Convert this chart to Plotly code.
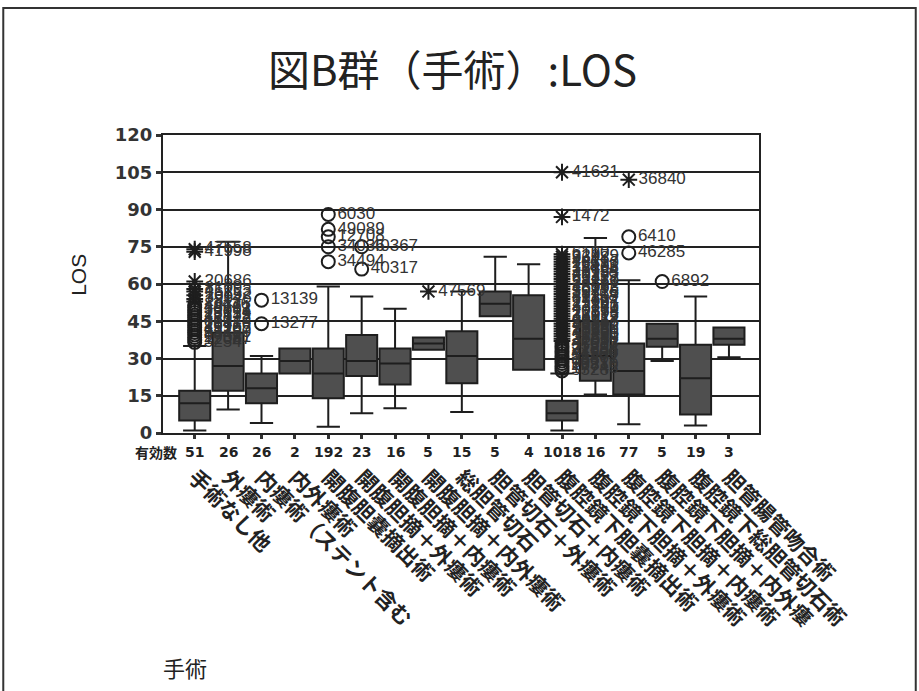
import plotly.graph_objects as go

# ---------------- data ----------------
categories = ["手術なし他", "外瘻術", "内瘻術（ステント含む", "内外瘻術", "開腹胆嚢摘出術",
              "開腹胆摘＋外瘻術", "開腹胆摘＋内瘻術", "開腹胆摘＋内外瘻術", "総胆管切石",
              "胆管切石＋外瘻術", "胆管切石＋内瘻術", "腹腔鏡下胆嚢摘出術", "腹腔鏡下胆摘＋外瘻術",
              "腹腔鏡下胆摘＋内瘻術", "腹腔鏡下胆摘＋内外瘻", "腹腔鏡下総胆管切石術", "胆管腸管吻合術"]
n_valid = [51, 26, 26, 2, 192, 23, 16, 5, 15, 5, 4, 1018, 16, 77, 5, 19, 3]

q1 = [5, 17, 12, 24, 14, 23, 19.5, 33.5, 20, 47, 25.5, 5, 21, 15.5, 34.7, 7.5, 35.5]
median = [12, 27, 18, 29, 24, 29, 28, 36, 31, 52, 38, 8, 31, 25, 38, 22, 38]
q3 = [17, 40.5, 24, 34, 34, 39.5, 34, 38.5, 41, 57, 55.5, 13, 45, 36, 44, 35.5, 42.5]
lower = [1, 9.5, 4, 24, 2.5, 8, 10, 33.5, 8.5, 47, 25.5, 1, 15.5, 3.5, 29, 3, 30.5]
upper = [35, 77, 31, 34, 59, 55, 50, 38.5, 57, 71, 68, 24, 78.5, 61.5, 44, 55, 42.5]

# outliers (circle = >1.5 IQR, star = >3 IQR)
circ_cat = (["手術なし他"] * 16 + ["内瘻術（ステント含む"] * 2 + ["開腹胆嚢摘出術"] * 5 +
            ["開腹胆摘＋外瘻術"] * 2 + ["腹腔鏡下胆嚢摘出術"] * 12 +
            ["腹腔鏡下胆摘＋内瘻術"] * 2 + ["腹腔鏡下胆摘＋内外瘻"])
circ_val = [36.5, 37.5, 38.5, 39.5, 40.5, 41.5, 42.5, 43.5, 44.5, 45.5, 46.5, 47.5, 48.5, 49.5, 50.5, 51.5,
            53.5, 44,
            88, 82, 79, 75, 69,
            75, 66,
            25, 26, 27, 28, 29, 30, 31, 32, 33, 34, 35, 36,
            79, 72.5,
            61]
circ_id = ["3254", "12087", "27531", "8842", "33190", "41207", "19965", "28476", "6631", "45012",
           "37728", "15539", "23014", "30982", "48761", "11436",
           "13139", "13277",
           "6030", "49089", "12708", "34036", "34494",
           "40367", "40317",
           "5528", "17743", "26310", "9021", "38877", "14402", "31169", "44590", "2236", "21894", "35517", "47033",
           "6410", "46285",
           "6892"]

star_cat = (["手術なし他"] * 8 + ["開腹胆摘＋内外瘻術"] + ["腹腔鏡下胆嚢摘出術"] * 38 +
            ["腹腔鏡下胆摘＋内瘻術"])
star_val = [53, 54, 55.5, 57, 58, 61, 73, 74,
            57,
            37, 38, 39, 40, 41, 42, 43, 44, 45, 46, 47, 48, 49, 50, 51, 52, 53, 54, 55, 56,
            57, 58, 59, 60, 61, 62, 63, 64, 65, 66, 67, 68, 69, 70, 71, 72, 87, 105,
            102]
star_id = ["2817", "39046", "16652", "45253", "8109", "20686", "41998", "47558",
           "47569",
           "31537", "36688", "12290", "40421", "7765", "25186", "43309", "18847", "29953", "4471",
           "36012", "22698", "10354", "47790", "33841", "15207", "27664", "8930", "41158", "19426",
           "30715", "46093", "13582", "24871", "38260", "6347", "20119", "42985", "16734", "35406",
           "11873", "28590", "44217", "9648", "32079", "6190", "1472", "41631",
           "36840"]

y_ticks = [0, 15, 30, 45, 60, 75, 90, 105, 120]

# ---------------- figure ----------------
fig = go.Figure()

fig.add_trace(go.Box(
    x=categories, q1=q1, median=median, q3=q3, lowerfence=lower, upperfence=upper,
    boxpoints=False, width=0.93, whiskerwidth=0.75,
    fillcolor="#4f4f4f", line=dict(color="#1e1e1e", width=2),
    showlegend=False, hoverinfo="skip"))

label_font = dict(family="Liberation Sans, Arial", size=17, color="#333333")

fig.add_trace(go.Scatter(
    x=circ_cat, y=circ_val, text=circ_id, mode="markers+text", textposition="middle right",
    marker=dict(symbol="circle-open", size=13, color="#1e1e1e", line=dict(width=2, color="#1e1e1e")),
    textfont=label_font, cliponaxis=False, showlegend=False, hoverinfo="skip"))

fig.add_trace(go.Scatter(
    x=star_cat, y=star_val, text=star_id, mode="markers+text", textposition="middle right",
    marker=dict(symbol="asterisk-open", size=14, color="#1e1e1e", line=dict(width=2, color="#1e1e1e")),
    textfont=label_font, cliponaxis=False, showlegend=False, hoverinfo="skip"))

annotations = []
for c, n in zip(categories, n_valid):
    annotations.append(dict(x=c, xref="x", y=-0.064, yref="paper", text=str(n), showarrow=False,
                            font=dict(family="DejaVu Sans", size=14, color="#222", weight="bold"),
                            xanchor="center", yanchor="middle"))
annotations.append(dict(x=0.027, xref="paper", y=-0.064, yref="paper", text="有効数", showarrow=False,
                        font=dict(family="Noto Sans CJK JP", size=14, color="#222", weight="bold"),
                        xanchor="right", yanchor="middle"))
annotations.append(dict(x=0.485, xref="paper", y=1.225, yref="paper", text="図B群（手術）:LOS",
                        showarrow=False, font=dict(family="Noto Sans CJK JP", size=42, color="#222"),
                        xanchor="center", yanchor="middle"))
annotations.append(dict(x=-0.143, xref="paper", y=0.53, yref="paper", text="LOS", textangle=-90,
                        showarrow=False, font=dict(family="Liberation Sans, Arial", size=21, color="#222"),
                        xanchor="center", yanchor="middle"))
annotations.append(dict(x=0.037, xref="paper", y=-0.785, yref="paper", text="手術",
                        showarrow=False, font=dict(family="Noto Sans CJK JP", size=22, color="#222"),
                        xanchor="center", yanchor="middle"))

shapes = [dict(type="rect", xref="paper", yref="paper", x0=-0.268, x1=1.263, y0=-0.95, y1=1.426,
               line=dict(color="#333", width=2), layer="below")]

fig.update_layout(
    width=919, height=691,
    margin=dict(l=163, r=160, t=135, b=258),
    plot_bgcolor="white", paper_bgcolor="white",
    showlegend=False,
    annotations=annotations, shapes=shapes,
    xaxis=dict(type="category", categoryorder="array", categoryarray=categories,
               range=[-0.95, 16.9], showline=True, linecolor="#222", linewidth=2, mirror=True,
               ticks="outside", ticklen=4, tickwidth=3, tickcolor="#333",
               tickangle=45, ticklabelstandoff=18,
               tickfont=dict(family="Noto Sans CJK JP", size=21, color="#222", weight="bold"),
               showgrid=False, zeroline=False),
    yaxis=dict(range=[0, 120], tickmode="array", tickvals=y_ticks,
               showgrid=True, gridcolor="#222", gridwidth=2,
               showline=True, linecolor="#222", linewidth=2, mirror=True,
               ticks="outside", ticklen=5, tickwidth=3, tickcolor="#333",
               tickfont=dict(family="DejaVu Sans", size=18, color="#333", weight="bold"),
               zeroline=False),
)

fig.write_html("out.html", config={"displayModeBar": False},
               post_script="document.body.style.margin='0px';")
